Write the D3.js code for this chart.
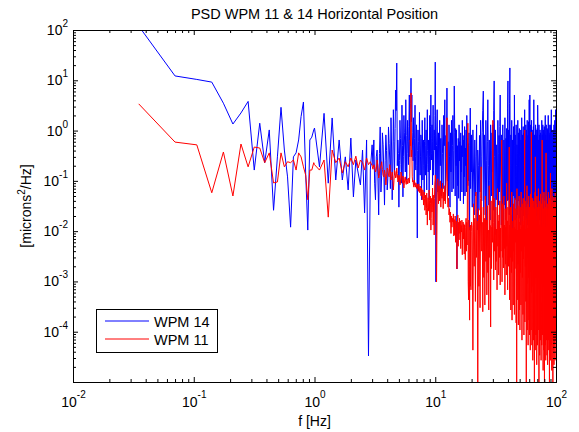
<!DOCTYPE html>
<html>
<head>
<meta charset="utf-8">
<script src="https://cdn.jsdelivr.net/npm/d3@7"></script>
<style>
    body { margin: 0; background: #fff; }
    text { font-family: Arial, "Liberation Sans", sans-serif; fill: #000; }
</style>
</head>
<body>
<svg id="psd" width="579" height="432"></svg>
<script>
// frequencies [Hz] (full resolution at the low end, thinned above 1 Hz)
const freqLow = [0.035,0.070,0.106,0.141,0.176,0.211,0.246,0.282,0.317,0.352,0.387,0.422,0.458,0.493,
    0.528,0.563,0.598,0.634,0.669,0.704,0.739,0.774,0.810,0.845,0.880,0.915,0.950,0.986];
const freqMid = [1.0,1.1,1.2,1.3,1.4,1.5,1.6,1.7,1.8,1.9,2.0,2.1,2.2,2.3,2.4,2.5,2.6,2.7,2.8,2.9,3.0,
    3.05,3.1,3.15,3.2,3.25,3.3,3.35,3.4,3.45,3.5,3.55,3.6,3.65,3.7,3.75,3.8,3.85,3.9,3.95,4.0,
    4.05,4.1,4.15,4.2,4.25,4.3,4.35,4.4,4.45,4.5,4.55,4.6,4.65,4.7,4.75,4.8,4.85,4.9,4.95,5.0,
    5.05,5.1,5.15,5.2,5.25,5.3,5.35,5.4,5.45,5.5,5.55,5.6,5.65,5.7,5.75,5.8,5.85,5.9,5.95,6.0,
    6.05,6.1,6.15,6.2,6.25,6.3,6.35,6.4,6.45,6.5,6.55,6.6,6.65,6.7,6.75,6.8,6.85,6.9,6.95,7.0,
    7.05,7.1,7.15,7.2,7.25,7.3,7.35,7.4,7.45,7.5,7.55,7.6,7.65,7.7,7.75,7.8,7.85,7.9,7.95,8.0,
    8.05,8.1,8.15,8.2,8.25,8.3,8.35,8.4,8.45,8.5,8.55,8.6,8.65,8.7,8.75,8.8,8.85,8.9,8.95,9.0,
    9.05,9.1,9.15,9.2,9.25,9.3,9.35,9.4,9.45,9.5,9.55,9.6,9.65,9.7,9.75,9.8,9.85,9.9,9.95,10.0];
const freqHigh = [10.125,10.25,10.375,10.5,10.625,10.75,10.875,11,
    11.125,11.25,11.375,11.5,11.625,11.75,11.875,12,
    12.125,12.25,12.375,12.5,12.625,12.75,12.875,13,
    13.125,13.25,13.375,13.5,13.625,13.75,13.875,14,
    14.125,14.25,14.375,14.5,14.625,14.75,14.875,15,
    15.125,15.25,15.375,15.5,15.625,15.75,15.875,16,
    16.125,16.25,16.375,16.5,16.625,16.75,16.875,17,
    17.125,17.25,17.375,17.5,17.625,17.75,17.875,18,
    18.125,18.25,18.375,18.5,18.625,18.75,18.875,19,
    19.125,19.25,19.375,19.5,19.625,19.75,19.875,20,
    20.25,20.5,20.75,21,21.25,21.5,21.75,22,22.25,22.5,22.75,23,23.25,23.5,23.75,24,24.25,24.5,24.75,25,
    25.25,25.5,25.75,26,26.25,26.5,26.75,27,27.25,27.5,27.75,28,28.25,28.5,28.75,29,29.25,29.5,29.75,30,
    30.25,30.5,30.75,31,31.25,31.5,31.75,32,32.25,32.5,32.75,33,33.25,33.5,33.75,34,34.25,34.5,34.75,35,
    35.25,35.5,35.75,36,36.25,36.5,36.75,37,37.25,37.5,37.75,38,38.25,38.5,38.75,39,39.25,39.5,39.75,40,
    40.25,40.5,40.75,41,41.25,41.5,41.75,42,42.25,42.5,42.75,43,43.25,43.5,43.75,44,44.25,44.5,44.75,45,
    45.25,45.5,45.75,46,46.25,46.5,46.75,47,47.25,47.5,47.75,48,48.25,48.5,48.75,49,49.25,49.5,49.75,50,
    50.25,50.5,50.75,51,51.25,51.5,51.75,52,52.25,52.5,52.75,53,53.25,53.5,53.75,54,54.25,54.5,54.75,55,
    55.25,55.5,55.75,56,56.25,56.5,56.75,57,57.25,57.5,57.75,58,58.25,58.5,58.75,59,59.25,59.5,59.75,60,
    60.25,60.5,60.75,61,61.25,61.5,61.75,62,62.25,62.5,62.75,63,63.25,63.5,63.75,64,64.25,64.5,64.75,65,
    65.25,65.5,65.75,66,66.25,66.5,66.75,67,67.25,67.5,67.75,68,68.25,68.5,68.75,69,69.25,69.5,69.75,70,
    70.25,70.5,70.75,71,71.25,71.5,71.75,72,72.25,72.5,72.75,73,73.25,73.5,73.75,74,74.25,74.5,74.75,75,
    75.25,75.5,75.75,76,76.25,76.5,76.75,77,77.25,77.5,77.75,78,78.25,78.5,78.75,79,79.25,79.5,79.75,80,
    80.25,80.5,80.75,81,81.25,81.5,81.75,82,82.25,82.5,82.75,83,83.25,83.5,83.75,84,84.25,84.5,84.75,85,
    85.25,85.5,85.75,86,86.25,86.5,86.75,87,87.25,87.5,87.75,88,88.25,88.5,88.75,89,89.25,89.5,89.75,90,
    90.25,90.5,90.75,91,91.25,91.5,91.75,92,92.25,92.5,92.75,93,93.25,93.5,93.75,94,94.25,94.5,94.75,95,
    95.25,95.5,95.75,96,96.25,96.5,96.75,97,97.25,97.5,97.75,98,98.25,98.5,98.75,99,99.25,99.5,99.75,100];

// WPM 14 PSD [microns^2/Hz]
const wpm14Low = [120,12.2,10.4,9.2,3.5,1.35,2.24,3.8,0.164,1.4,
    0.23,1.03,0.026,0.30,2.9,0.41,0.12,0.012,0.30,0.36,
    0.65,1.9,3.7,0.143,0.0105,0.65,0.74,1.03];
const wpm14Mid = [1.12,0.19,2.2,0.09,1.78,0.104,0.65,0.104,0.30,0.066,0.71,0.048,0.26,0.143,0.083,0.41,0.023,0.65,3.3e-5,0.164,0.52,
    0.2,0.65,0.09,0.042,0.3,0.41,0.12,0.021,0.35,1.18,0.06,0.13,0.9,0.52,0.15,0.033,0.25,0.82,0.4,0.066,
    0.11,1.18,0.55,0.26,0.07,1.8,0.45,0.042,0.18,2.6,0.6,0.13,1.1,6.4,2.5,22,0.2,0.65,0.35,0.030,
    0.25,1.6,0.7,0.21,0.09,3.2,0.5,0.048,0.3,2.0,0.9,0.41,0.15,4.1,0.8,0.104,0.35,1.6,0.6,0.21,
    1.2,5.1,0.3,2.6,3.5,11,1.5,5.1,0.9,0.41,0.25,1.8,0.5,0.083,0.7,3.2,0.3,0.164,0.45,1.3,
    0.2,0.0073,0.4,1.03,0.6,0.066,0.15,2.3,0.5,0.13,0.3,0.82,0.7,0.042,0.25,1.6,0.45,0.104,0.2,0.65,
    0.35,0.052,0.6,1.8,0.22,0.13,0.5,1.03,0.3,0.066,0.9,2.6,0.4,0.21,0.15,0.65,0.55,0.042,0.3,2.0,
    0.5,0.164,1.2,5.1,0.7,0.26,0.35,1.3,0.6,0.083,0.9,3.2,0.4,0.13,0.25,1.03,0.8,0.41,2.0,23];
const wpm14High = [0.00098,0.5,2.6,0.06,0.9,0.045,1.6,0.2,
    0.7,0.05,1.3,0.35,0.07,2.0,0.5,4.1,
    0.04,0.8,0.3,7.0,0.1,0.6,0.05,1.3,
    0.3,0.03,0.9,0.15,1.6,0.06,0.5,2.0,
    0.07,0.4,7.7,0.9,0.05,1.1,0.2,1.03,
    0.00177,0.5,0.08,0.7,0.045,1.3,0.25,0.6,
    0.04,0.9,0.15,0.5,0.06,1.6,0.3,0.8,
    0.035,0.65,0.12,1.2,0.05,0.45,0.2,1.03,
    0.06,2.0,0.3,0.7,0.08,0.55,0.1,0.9,
    0.04,0.0105,0.5,2.8,0.07,0.8,0.15,0.82,
    0.03,1.03,0.15,0.021,0.65,0.05,0.3,1.3,0.0105,0.41,0.2,0.026,0.8,0.06,1.6,0.3,0.04,0.9,2.5,6.1,
    0.021,0.82,0.12,0.042,1.6,0.25,0.0132,0.6,4.1,0.2,0.033,0.65,0.1,0.0166,1.3,0.4,0.05,0.9,0.15,1.3,
    0.026,2.5,9.7,0.3,0.0084,1.03,0.12,0.042,0.52,0.2,0.021,1.6,0.35,0.033,0.8,0.06,1.2,5.1,0.15,0.04,
    0.0132,0.82,0.2,0.026,1.3,0.1,0.0067,0.65,0.3,0.033,1.8,0.15,0.0166,0.7,0.05,1.1,0.25,0.04,2.8,9.7,
    0.042,1.03,0.3,0.021,3.5,17.6,0.2,0.0132,0.82,0.1,0.033,1.6,0.4,0.0105,0.65,0.15,0.05,1.2,0.3,0.026,
    5.1,0.5,0.0166,0.82,0.12,0.042,1.3,0.2,0.0067,0.52,0.35,0.021,1.6,0.1,0.04,0.9,0.25,0.018,1.1,0.3,
    0.033,1.03,0.15,0.0132,0.65,0.3,0.026,1.8,0.1,0.0105,0.82,0.4,0.033,1.2,0.2,0.02,0.9,0.12,0.04,2.6,
    0.0166,0.65,0.25,0.021,1.3,0.1,0.0084,1.03,0.35,0.033,1.6,0.15,0.0132,0.8,0.3,0.04,1.5,0.2,0.02,4.1,
    0.026,0.82,5.1,0.0105,1.3,0.12,0.021,0.65,0.4,0.033,1.6,0.15,0.0067,1.03,0.3,0.025,0.9,0.1,0.04,1.2,
    0.0166,4.1,0.5,0.026,0.82,0.15,0.0132,0.65,0.3,0.033,1.3,0.1,0.0105,1.03,0.25,0.02,0.8,0.35,0.04,1.1,
    0.021,3.2,1.5,0.3,0.0084,0.65,0.2,0.026,1.3,0.1,0.0166,0.82,0.4,0.033,1.03,0.15,0.02,0.9,0.3,0.04,
    0.0132,0.65,0.25,0.021,1.6,0.12,0.0105,0.82,0.35,0.026,1.3,0.2,0.0067,1.03,0.1,0.03,0.9,0.3,0.018,1.2,
    0.033,0.65,0.15,0.0166,1.0,2.0,0.2,0.0105,0.82,0.3,0.021,1.3,0.1,0.0132,0.65,0.4,0.03,1.1,0.2,0.02,
    0.026,1.03,0.25,0.0084,2.0,0.15,0.033,0.65,0.3,0.0166,1.3,0.1,0.0105,0.82,0.35,0.025,0.9,0.2,0.04,1.2,
    0.021,1.3,0.3,0.0067,1.3,2.6,0.15,0.026,0.82,0.2,0.0132,1.03,0.35,0.033,0.65,0.1,0.02,0.9,0.25,0.04,
    0.0166,1.03,0.2,0.0105,1.3,0.3,0.021,0.65,0.15,0.0084,1.6,0.35,0.026,0.8,0.1,0.03,1.5,2.6,0.2,2.6];

// WPM 11 PSD [microns^2/Hz]
const wpm11Low = [3.4,0.59,0.52,0.058,0.375,0.050,0.54,0.19,0.47,0.45,
    0.23,0.36,0.091,0.095,0.36,0.19,0.24,0.23,0.26,0.164,
    0.36,0.30,0.19,0.13,0.042,0.164,0.164,0.23];
const wpm11Mid = [0.21,0.164,0.26,0.019,0.41,0.23,0.285,0.143,0.24,0.19,0.285,0.21,0.31,0.18,0.26,0.23,0.164,0.285,0.21,0.24,0.20,
    0.17,0.21,0.19,0.15,0.17,0.26,0.2,0.114,0.14,0.18,0.2,0.24,0.17,0.13,0.12,0.164,0.14,0.083,0.12,0.18,
    0.17,0.13,0.12,0.21,0.16,0.104,0.12,0.15,0.12,0.066,0.1,0.164,0.15,0.114,0.12,0.18,0.14,0.095,0.1,0.13,
    0.12,0.083,0.09,0.15,0.13,0.104,0.09,0.125,0.11,0.072,0.09,0.114,0.12,0.095,0.085,0.104,0.11,0.087,0.09,0.114,
    0.11,0.091,0.12,0.65,0.5,5.6,0.3,0.41,0.12,0.095,0.1,0.083,0.075,0.104,0.095,0.079,0.075,0.091,0.09,0.072,
    0.07,0.083,0.085,0.066,0.062,0.087,0.075,0.060,0.058,0.079,0.07,0.052,0.05,0.072,0.065,0.042,0.045,0.066,0.055,0.033,
    0.04,0.060,0.045,0.026,0.03,0.052,0.04,0.021,0.028,0.057,0.035,0.0132,0.03,0.046,0.045,0.026,0.025,0.066,0.04,0.0166,
    0.03,0.050,0.035,0.0105,0.018,0.042,0.045,0.024,0.03,0.072,0.04,0.0132,0.02,0.052,0.035,0.0084,0.045,0.083,0.1,0.13];
const wpm11High = [0.09,0.00098,0.05,0.11,0.035,0.08,0.04,0.1,
    0.03,0.07,0.045,0.09,0.028,0.06,0.04,0.08,
    0.035,0.07,0.15,1.8,0.05,0.03,0.045,0.021,
    0.028,0.015,0.024,0.009,0.02,0.012,0.018,0.0152,
    0.022,0.008,0.017,0.0084,0.02,0.006,0.016,0.0115,
    0.00177,0.014,0.021,0.005,0.015,0.0067,0.018,0.009,
    0.016,0.0045,0.013,0.0096,0.0166,0.0034,0.012,0.0152,
    0.007,0.014,0.0035,0.0132,0.005,0.0027,0.012,0.018,
    0.004,0.015,0.0053,0.25,1.4,0.001,0.00043,0.0166,
    0.002,0.00017,0.012,0.0008,0.0132,0.00068,0.01,0.0152,
    0.012,4.3e-5,0.035,0.002,0.018,0.0004,0.06,0.003,0.016,5e-6,0.028,0.0008,0.021,0.0003,0.045,0.19,0.004,0.015,0.00025,0.03,
    0.0012,0.018,0.00034,0.05,0.0025,0.0166,0.00054,0.032,0.0015,0.0105,0.00027,0.08,0.003,0.013,0.000124,0.04,0.0018,0.012,0.006,1.6,
    0.015,0.00107,0.045,0.004,0.012,0.00169,0.03,0.0025,0.011,0.00068,0.07,0.005,0.016,0.00134,0.021,0.003,0.04,0.00085,0.0115,0.004,
    0.02,0.65,0.00098,0.035,0.003,0.0166,0.00185,0.05,0.0045,0.0132,0.00054,0.028,0.0022,0.012,0.00134,0.09,0.005,0.016,0.00068,0.03,
    0.0152,0.002,0.04,0.47,0.00043,0.0132,0.003,0.03,0.00027,0.021,0.0015,0.06,0.00017,0.0115,0.0025,0.016,0.00034,0.035,0.004,0.012,
    0.00022,0.045,0.0018,0.011,0.006,0.028,0.00015,0.018,5e-6,0.07,0.00043,0.0105,0.0022,0.032,0.000136,0.021,0.003,0.05,0.00027,0.0152,
    0.000108,0.03,0.0015,0.011,0.00034,0.06,0.004,0.012,6.8e-5,0.035,0.0012,0.016,0.00022,0.045,0.0028,0.013,8.6e-5,0.028,0.005,1.03,
    0.000156,0.04,0.002,0.011,0.0004,0.03,5e-6,0.018,0.0009,0.08,0.000108,0.0115,0.003,0.035,5.4e-5,0.021,0.0012,0.05,0.00017,0.0132,
    8.6e-5,0.03,0.0015,0.012,4.3e-5,0.055,0.0025,0.011,0.000108,0.94,0.0006,0.035,5.4e-5,0.0152,0.002,0.045,2.7e-5,0.018,0.0008,0.03,
    6.8e-5,0.04,0.0018,0.012,5e-6,0.028,0.0009,0.06,4.3e-5,0.30,0.003,0.013,8.6e-5,0.035,0.0012,0.016,2.2e-5,0.05,0.0025,0.012,
    5.4e-5,0.03,0.0007,0.011,0.000108,0.07,0.002,0.014,5e-6,0.04,0.0012,0.012,3.4e-5,0.03,0.003,0.013,6.8e-5,0.055,0.0009,0.011,
    2.7e-5,0.035,0.0015,0.012,5.4e-5,0.016,0.65,0.004,8.6e-5,0.045,0.0011,0.012,1.7e-5,0.028,0.0022,0.014,4.3e-5,0.06,0.0008,0.011,
    5e-6,0.04,0.0012,0.011,5.4e-5,0.03,0.0025,0.012,2.7e-5,0.014,0.36,0.003,6.8e-5,0.05,0.0009,0.013,3.4e-5,0.035,0.0018,0.011,
    2.2e-5,0.028,0.0014,0.012,6.8e-5,0.06,0.0028,0.011,4.3e-5,0.035,0.0009,0.012,5e-6,0.045,0.002,0.014,8.6e-5,0.03,0.0012,0.143,
    2.7e-5,0.04,0.0016,0.011,5.4e-5,0.03,0.003,0.013,1.7e-5,0.07,0.0008,0.012,6.8e-5,0.035,0.0022,0.011,5e-6,0.05,0.0011,0.012,
    4.3e-5,0.03,0.0018,0.011,2.2e-5,0.045,0.0009,0.012,5.4e-5,0.035,0.0025,0.014,2.7e-5,0.06,0.0012,0.011,6.8e-5,0.04,0.002,0.0105];

// tick label exponents (10^e)
const xExps = [-2, -1, 0, 1, 2];
const yExps = [-4, -3, -2, -1, 0, 1, 2];

const freqHz = freqLow.concat(freqMid, freqHigh);
const wpm14 = wpm14Low.concat(wpm14Mid, wpm14High);
const wpm11 = wpm11Low.concat(wpm11Mid, wpm11High);

const series = [
    {name: "WPM 14", color: "#0000ff", values: wpm14},
    {name: "WPM 11", color: "#ff0000", values: wpm11}
];

const margin = {top: 30, right: 23, bottom: 50, left: 73};
const width = 579 - margin.left - margin.right;
const height = 432 - margin.top - margin.bottom;

const svg = d3.select("#psd");
const g = svg.append("g")
    .attr("transform", "translate(" + margin.left + "," + margin.top + ")");

const x = d3.scaleLog().domain([1e-2, 1e2]).range([0, width]);
const y = d3.scaleLog().domain([1e-5, 1e2]).range([height, 0]);

g.append("clipPath").attr("id", "plot-clip")
    .append("rect").attr("width", width + 1).attr("height", height + 1);

// spectra, blue first so red sits on top
const line = d3.line()
    .x((d) => x(d[0]))
    .y((d) => y(d[1]));

g.append("g").attr("clip-path", "url(#plot-clip)")
    .selectAll("path")
    .data(series)
    .enter()
    .append("path")
    .attr("d", (s) => line(d3.zip(freqHz, s.values)))
    .style("fill", "none")
    .style("stroke", (s) => s.color)
    .style("stroke-width", 1);

// ticks, inside, on all four sides
const isMajor = (d) => Math.abs(Math.log10(d) - Math.round(Math.log10(d))) < 1e-9;
const xMajor = x.ticks().filter(isMajor);
const xMinor = x.ticks().filter((d) => !isMajor(d));
const yMajor = y.ticks().filter(isMajor);
const yMinor = y.ticks().filter((d) => !isMajor(d));

function ticks(axis, values, size, transform) {
    g.append("g")
        .attr("transform", transform)
        .call(axis.tickValues(values).tickSizeInner(-size).tickSizeOuter(0).tickFormat(""))
        .call((a) => a.select(".domain").remove());
}
ticks(d3.axisBottom(x), xMajor, 5, "translate(0," + height + ")");
ticks(d3.axisBottom(x), xMinor, 3, "translate(0," + height + ")");
ticks(d3.axisTop(x), xMajor, 5, "translate(0,0)");
ticks(d3.axisTop(x), xMinor, 3, "translate(0,0)");
ticks(d3.axisLeft(y), yMajor, 5, "translate(0,0)");
ticks(d3.axisLeft(y), yMinor, 3, "translate(0,0)");
ticks(d3.axisRight(y), yMajor, 5, "translate(" + width + ",0)");
ticks(d3.axisRight(y), yMinor, 3, "translate(" + width + ",0)");

g.append("rect")
    .attr("x", 0.5).attr("y", 0.5)
    .attr("width", width).attr("height", height)
    .style("fill", "none").style("stroke", "#000");

// tick labels 10^e
const xl = g.append("g").selectAll("text")
    .data(xExps).enter().append("text")
    .attr("x", (e) => x(Math.pow(10, e)) + 0.5)
    .attr("y", height + 25)
    .style("font-size", "14px")
    .style("text-anchor", "middle");
xl.append("tspan").text("10");
xl.append("tspan").attr("dy", -9).style("font-size", "10px").text((e) => e);

const yl = g.append("g").selectAll("text")
    .data(yExps).enter().append("text")
    .attr("x", -5)
    .attr("y", (e) => y(Math.pow(10, e)) + 5)
    .style("font-size", "14px")
    .style("text-anchor", "end");
yl.append("tspan").text("10");
yl.append("tspan").attr("dy", -8).style("font-size", "10px").text((e) => e);

// title and axis labels
g.append("text")
    .attr("x", width / 2).attr("y", -11)
    .style("font-size", "14.5px").style("text-anchor", "middle")
    .text("PSD WPM 11 & 14 Horizontal Position");

g.append("text")
    .attr("x", width / 2).attr("y", height + 44)
    .style("font-size", "14px").style("text-anchor", "middle")
    .text("f [Hz]");

const ylab = g.append("text")
    .attr("transform", "rotate(-90)")
    .attr("x", -height / 2).attr("y", -42)
    .style("font-size", "14px").style("text-anchor", "middle");
ylab.append("tspan").text("[microns");
ylab.append("tspan").attr("dy", -6).style("font-size", "10px").text("2");
ylab.append("tspan").attr("dy", 6).text("/Hz]");

// legend
const legend = g.append("g").attr("transform", "translate(23,279)");
legend.append("rect")
    .attr("x", 0.5).attr("y", 0.5).attr("width", 121).attr("height", 43)
    .style("fill", "#fff").style("stroke", "#000");
const item = legend.selectAll(".item")
    .data(series).enter().append("g")
    .attr("class", "item")
    .attr("transform", (s, i) => "translate(0," + (12 + i * 18) + ")");
item.append("line")
    .attr("x1", 9).attr("x2", 53).attr("y1", 0).attr("y2", 0)
    .style("stroke", (s) => s.color);
item.append("text")
    .attr("x", 58).attr("y", 6)
    .style("font-size", "14.5px")
    .text((s) => s.name);
</script>
</body>
</html>
